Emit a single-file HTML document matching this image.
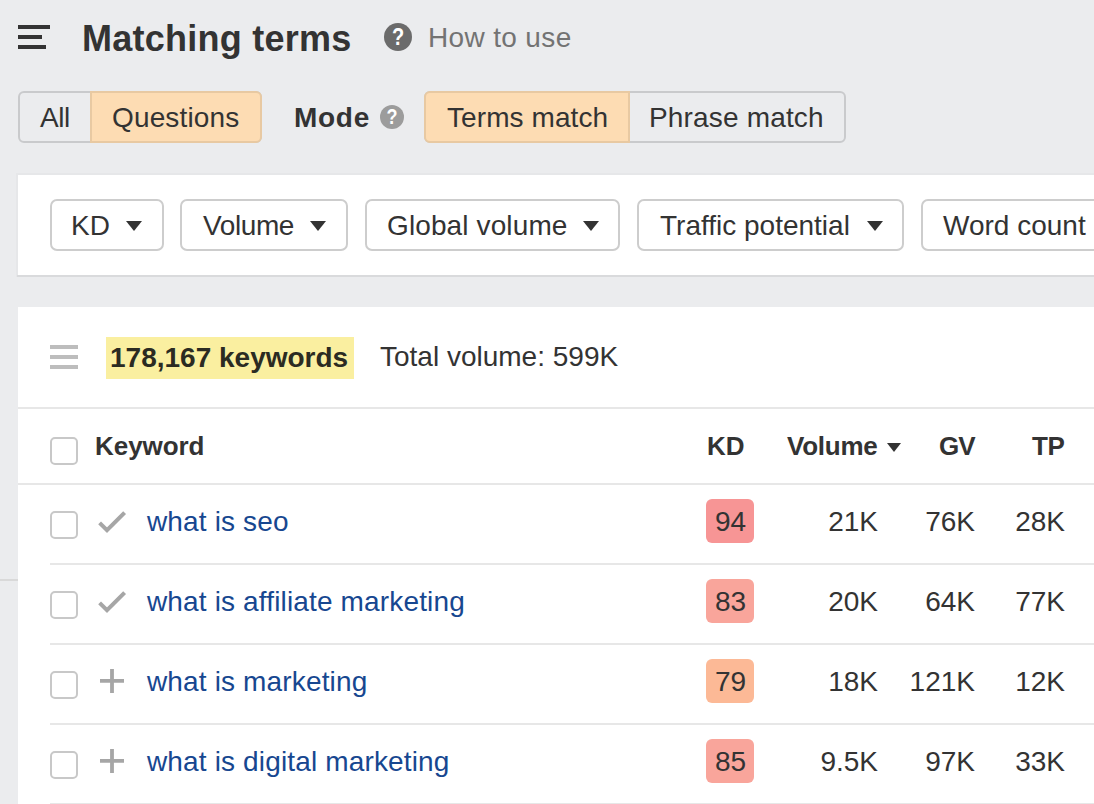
<!DOCTYPE html>
<html><head><meta charset="utf-8"><style>
*{box-sizing:border-box;margin:0;padding:0}
html,body{width:1094px;height:804px;overflow:hidden;background:#ebecee;font-family:"Liberation Sans",Arial,Helvetica,sans-serif;color:#333}
body{position:relative}
.a{position:absolute}
.t{position:absolute;white-space:nowrap;line-height:1;font-size:28px;color:#333}
.b{font-weight:bold}
.bar{position:absolute;background:#333;height:4px;left:18px}
.qd{position:absolute;border-radius:50%}
.seg{position:absolute;top:91px;height:52px}
.fb{position:absolute;top:199px;height:52px;border:2px solid #cdcdcd;border-radius:7px;background:#fff}
.tri{position:absolute;width:0;height:0;border-left:8px solid transparent;border-right:8px solid transparent;border-top:10px solid #333}
.hl{position:absolute;height:2px;background:#e7e7e7}
.cb{position:absolute;left:50px;width:28px;height:28px;border:2px solid #c8c8c8;border-radius:5px;background:#fff}
.kw{color:#174790;letter-spacing:0.15px}
.kd{position:absolute;left:706px;width:48px;height:44px;border-radius:6px}
.h{font-size:26px;font-weight:bold}
</style></head><body>
<div class="bar" style="top:25px;width:32px"></div>
<div class="bar" style="top:35px;width:24px"></div>
<div class="bar" style="top:45px;width:28px"></div>
<div id="title" class="t b" style="left:82px;top:21px;font-size:36px;letter-spacing:0.25px">Matching terms</div>
<div class="qd" style="left:384px;top:23px;width:28px;height:28px;background:#6b6b6b"></div>
<div id="q1" class="t b" style="left:390.8px;top:25.8px;font-size:23.5px;color:#fff;transform:scaleX(0.85);transform-origin:50% 50%">?</div>
<div id="howto" class="t " style="left:428px;top:24px;color:#737373;letter-spacing:0.35px">How to use</div>
<div class="a" style="left:18px;top:91px;width:244px;height:52px;border:2px solid #c9cacc;border-radius:6px;background:#ebecee"></div>
<div class="a" style="left:90px;top:91px;width:172px;height:52px;border:2px solid #e8c9a2;border-radius:0 6px 6px 0;background:#fddcb3"></div>
<div id="all" class="t " style="left:40px;top:104px;letter-spacing:-0.5px">All</div>
<div id="questions" class="t " style="left:112px;top:104px;letter-spacing:0.14px">Questions</div>
<div id="mode" class="t b" style="left:294px;top:104px;letter-spacing:0.7px">Mode</div>
<div class="qd" style="left:380px;top:105px;width:24px;height:24px;background:#9c9c9c"></div>
<div id="q2" class="t b" style="left:384.5px;top:106px;font-size:22.5px;color:#fff;transform:scaleX(0.8);transform-origin:50% 50%">?</div>
<div class="a" style="left:424px;top:91px;width:422px;height:52px;border:2px solid #c9cacc;border-radius:6px;background:#ebecee"></div>
<div class="a" style="left:424px;top:91px;width:206px;height:52px;border:2px solid #e8c9a2;border-radius:6px 0 0 6px;background:#fddcb3"></div>
<div id="terms" class="t " style="left:447px;top:104px;letter-spacing:0.08px">Terms match</div>
<div id="phrase" class="t " style="left:649px;top:104px;letter-spacing:0.17px">Phrase match</div>
<div class="a" style="left:16px;top:173px;width:1078px;height:104px;background:#e6e7e9"></div>
<div class="a" style="left:17px;top:275px;width:1077px;height:2px;background:#d9dadc"></div>
<div class="a" style="left:18px;top:175px;width:1076px;height:100px;background:#fff"></div>
<div class="fb" style="left:50px;width:114px"></div>
<div id="fkd" class="t " style="left:71px;top:212px;letter-spacing:0px">KD</div>
<div class="tri" style="left:126px;top:221px"></div>
<div class="fb" style="left:180px;width:168px"></div>
<div id="fvol" class="t " style="left:203px;top:212px;letter-spacing:-0.4px">Volume</div>
<div class="tri" style="left:310px;top:221px"></div>
<div class="fb" style="left:365px;width:255px"></div>
<div id="fgv" class="t " style="left:387px;top:212px;letter-spacing:0.12px">Global volume</div>
<div class="tri" style="left:583px;top:221px"></div>
<div class="fb" style="left:637px;width:267px"></div>
<div id="ftp" class="t " style="left:660px;top:212px;letter-spacing:0px">Traffic potential</div>
<div class="tri" style="left:867px;top:221px"></div>
<div class="fb" style="left:920.5px;width:200px"></div>
<div id="fwc" class="t " style="left:943px;top:212px;letter-spacing:0px">Word count</div>
<div class="a" style="left:18px;top:307px;width:1076px;height:497px;background:#fff"></div>
<div class="a" style="left:50px;top:345px;width:28px;height:4px;background:#bdbdbd"></div>
<div class="a" style="left:50px;top:355px;width:28px;height:4px;background:#bdbdbd"></div>
<div class="a" style="left:50px;top:365px;width:28px;height:4px;background:#bdbdbd"></div>
<div class="a" style="left:106px;top:337px;width:248px;height:42px;background:#faefa0"></div>
<div id="kwc" class="t b" style="left:110px;top:344px;color:#2b2b22">178,167 keywords</div>
<div id="total" class="t " style="left:380px;top:343px;">Total volume: 599K</div>
<div class="hl" style="left:18px;top:407px;width:1076px"></div>
<div class="cb" style="top:437px"></div>
<div id="hkw" class="t h" style="left:95px;top:433px;letter-spacing:-0.05px">Keyword</div>
<div id="hkd" class="t h" style="left:707px;top:433px;letter-spacing:0px">KD</div>
<div id="hvol" class="t h" style="left:787px;top:433px;letter-spacing:-0.25px">Volume</div>
<div class="tri" style="left:887px;top:443px;border-left-width:7px;border-right-width:7px;border-top-width:9px"></div>
<div id="hgv" class="t h" style="left:939px;top:433px;letter-spacing:-1px">GV</div>
<div id="htp" class="t h" style="left:1032px;top:433px;letter-spacing:-0.3px">TP</div>
<div class="hl" style="left:18px;top:483px;width:1076px"></div>
<div class="cb" style="top:511px"></div>
<svg class="a" style="left:96px;top:509px" width="32" height="26" viewBox="0 0 32 26"><polyline points="3.6,13.9 11,21.2 28.6,3.6" fill="none" stroke="#a6a6a6" stroke-width="4"/></svg>
<div id="kw0" class="t kw" style="left:147px;top:508px">what is seo</div>
<div class="kd" style="top:499px;background:#f79595"></div>
<div id="kd0" class="t" style="left:715px;top:508px">94</div>
<div class="t" style="right:216px;top:507.6px">21K</div>
<div class="t" style="right:119px;top:507.6px">76K</div>
<div class="t" style="right:29px;top:507.6px">28K</div>
<div class="hl" style="left:50px;top:563px;width:1044px"></div>
<div class="cb" style="top:591px"></div>
<svg class="a" style="left:96px;top:589px" width="32" height="26" viewBox="0 0 32 26"><polyline points="3.6,13.9 11,21.2 28.6,3.6" fill="none" stroke="#a6a6a6" stroke-width="4"/></svg>
<div id="kw1" class="t kw" style="left:147px;top:588px">what is affiliate marketing</div>
<div class="kd" style="top:579px;background:#f9a59b"></div>
<div id="kd1" class="t" style="left:715px;top:588px">83</div>
<div class="t" style="right:216px;top:587.6px">20K</div>
<div class="t" style="right:119px;top:587.6px">64K</div>
<div class="t" style="right:29px;top:587.6px">77K</div>
<div class="hl" style="left:50px;top:643px;width:1044px"></div>
<div class="cb" style="top:671px"></div>
<svg class="a" style="left:96px;top:669px" width="32" height="26" viewBox="0 0 32 26"><path d="M16 0V24M4 11.9H28" fill="none" stroke="#a6a6a6" stroke-width="3.8"/></svg>
<div id="kw2" class="t kw" style="left:147px;top:668px">what is marketing</div>
<div class="kd" style="top:659px;background:#fcb996"></div>
<div id="kd2" class="t" style="left:715px;top:668px">79</div>
<div class="t" style="right:216px;top:667.6px">18K</div>
<div class="t" style="right:119px;top:667.6px">121K</div>
<div class="t" style="right:29px;top:667.6px">12K</div>
<div class="hl" style="left:50px;top:723px;width:1044px"></div>
<div class="cb" style="top:751px"></div>
<svg class="a" style="left:96px;top:749px" width="32" height="26" viewBox="0 0 32 26"><path d="M16 0V24M4 11.9H28" fill="none" stroke="#a6a6a6" stroke-width="3.8"/></svg>
<div id="kw3" class="t kw" style="left:147px;top:748px">what is digital marketing</div>
<div class="kd" style="top:739px;background:#f9a59b"></div>
<div id="kd3" class="t" style="left:715px;top:748px">85</div>
<div class="t" style="right:216px;top:747.6px">9.5K</div>
<div class="t" style="right:119px;top:747.6px">97K</div>
<div class="t" style="right:29px;top:747.6px">33K</div>
<div class="hl" style="left:50px;top:803px;width:1044px"></div>
<div class="a" style="left:0;top:579px;width:18px;height:2px;background:#d9d9d9"></div>
</body></html>
